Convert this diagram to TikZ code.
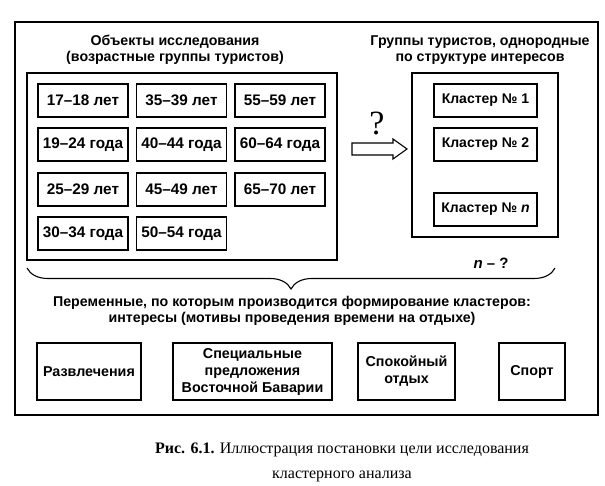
\documentclass[tikz,border=0pt]{standalone}
\usepackage{fontspec}
\setmainfont{Liberation Sans}
\newfontfamily\capfont{Liberation Serif}
\usetikzlibrary{decorations.pathreplacing}
\tikzstyle{frame} = [draw,line width=1.2pt]
\tikzstyle{age} = [draw,line width=1.1pt,minimum width=90,minimum height=33,inner sep=0pt,font=\bfseries\fontsize{15.3}{16}\selectfont]
\tikzstyle{cluster} = [draw,line width=1.1pt,minimum width=103,minimum height=33,inner sep=0pt,font=\bfseries\fontsize{14}{16}\selectfont]
\tikzstyle{interest} = [draw,line width=1.1pt,minimum height=57,inner sep=0pt,align=center,font=\bfseries\fontsize{14.3}{17}\selectfont]
\tikzstyle{title} = [align=center,font=\bfseries\fontsize{14.2}{16.5}\selectfont]

\begin{document}
\begin{tikzpicture}[x=1pt,y=-1pt]
        \useasboundingbox (0,0) rectangle (605,486);
        \draw[line width=1.7pt] (15,22) rectangle (598,415);
        \draw[frame] (27,73) rectangle (337,260);
        \draw[frame] (412,73) rectangle (558,237);

        \node[title] at (175,50) (objt) {Объекты исследования\\(возрастные группы туристов)};
        \node[title] at (480,50) (grpt) {Группы туристов, однородные\\по структуре интересов};

        \node[age] at (83,100.5) (a1) {17--18 лет};
        \node[age] at (83,144.5) (a2) {19--24 года};
        \node[age] at (83,189.5) (a3) {25--29 лет};
        \node[age] at (83,233.5) (a4) {30--34 года};
        \node[age] at (181.5,100.5) (a5) {35--39 лет};
        \node[age] at (181.5,144.5) (a6) {40--44 года};
        \node[age] at (181.5,189.5) (a7) {45--49 лет};
        \node[age] at (181.5,233.5) (a8) {50--54 года};
        \node[age] at (280,100.5) (a9) {55--59 лет};
        \node[age] at (280,144.5) (a10) {60--64 года};
        \node[age] at (280,189.5) (a11) {65--70 лет};

        \node[cluster] at (485.5,100.5) (k1) {Кластер № 1};
        \node[cluster] at (485.5,144.5) (k2) {Кластер № 2};
        \node[cluster] at (485.5,209.5) (kn) {Кластер № \textit{n}};

        % hollow arrow
        \draw[line width=1.1pt,line join=miter] (352,143) -- (393,143) -- (393,139) -- (407,149) -- (393,159) -- (393,155) -- (352,155) -- cycle;
        \node[font=\capfont\fontsize{34}{34}\selectfont] at (377,123) (q) {?};
        \node[font=\bfseries\fontsize{15}{16}\selectfont] at (491,263) (nq) {\textit{n} -- ?};

        \coordinate (bl) at (27,268);
        \coordinate (br) at (555,268);
        \draw[line width=1.1pt,decorate,decoration={brace,mirror,amplitude=21pt}] (bl) -- (br);

        \node[title] at (292,311) (vars) {Переменные, по которым производится формирование кластеров:\\интересы (мотивы проведения времени на отдыхе)};

        \node[interest,minimum width=104] at (89,371.5) (i1) {Развлечения};
        \node[interest,minimum width=159] at (252.5,371.5) (i2) {Специальные\\предложения\\Восточной Баварии};
        \node[interest,minimum width=97] at (406.5,371.5) (i3) {Спокойный\\отдых};
        \node[interest,minimum width=66] at (532,371.5) (i4) {Спорт};

        \node[align=center,font=\capfont\fontsize{16}{25}\selectfont] at (342,462) (cap) {\textbf{Рис. 6.1.} Иллюстрация постановки цели исследования\\кластерного анализа};
    \end{tikzpicture}
\end{document}
